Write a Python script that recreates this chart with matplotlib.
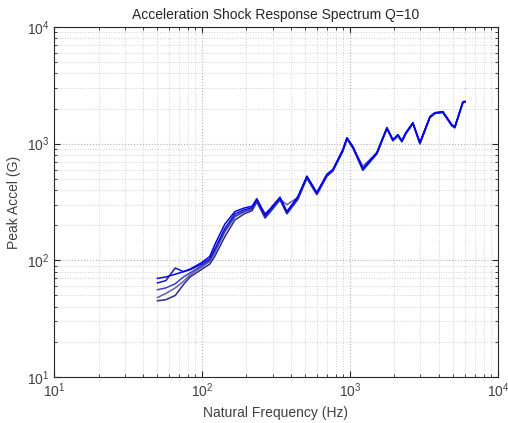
import numpy as np
import matplotlib.pyplot as plt

plt.rcParams['font.family'] = ['Liberation Sans', 'DejaVu Sans']

# natural frequency points (Hz)
freq = [50, 57, 66, 75, 83, 100, 113, 122, 143, 167, 195, 218, 235, 267, 297,
        337, 375, 445, 512, 598, 699, 768, 897, 955, 1048, 1224, 1522, 1779,
        1953, 2111, 2245, 2389, 2666, 2974, 3474, 3752, 4249, 4886, 5118, 5803, 6000]

# peak acceleration (G) for each record
srs_a = [70, 72, 76, 80, 84, 96, 108, 136, 205, 262, 282, 290, 338, 246, 288,
         348, 262, 352, 528, 382, 548, 602, 895, 1125, 945, 612, 842, 1375,
         1085, 1195, 1062, 1245, 1515, 1025, 1705, 1845, 1885, 1455, 1395, 2285, 2310]
srs_b = [64, 67, 86, 80, 83, 93, 103, 125, 188, 250, 272, 282, 330, 240, 282,
         340, 258, 345, 518, 376, 540, 596, 880, 1115, 935, 605, 832, 1360,
         1075, 1185, 1052, 1235, 1500, 1015, 1690, 1830, 1870, 1440, 1385, 2270, 2290]
srs_c = [56, 58, 63, 72, 78, 90, 100, 120, 180, 240, 265, 276, 325, 236, 276,
         336, 256, 340, 512, 372, 532, 590, 870, 1105, 925, 598, 825, 1350,
         1065, 1175, 1045, 1225, 1490, 1005, 1680, 1820, 1860, 1430, 1375, 2255, 2280]
srs_d = [45, 46, 50, 62, 72, 84, 93, 108, 160, 222, 252, 266, 316, 230, 270,
         330, 250, 332, 505, 365, 525, 582, 860, 1095, 915, 590, 815, 1340,
         1055, 1165, 1035, 1215, 1480, 995, 1670, 1810, 1850, 1420, 1365, 2240, 2265]
srs_e = [48, 52, 58, 66, 75, 88, 98, 116, 175, 236, 262, 274, 322, 252, 280,
         335, 300, 345, 515, 372, 530, 592, 875, 1110, 930, 640, 835, 1355,
         1070, 1180, 1050, 1230, 1495, 1010, 1685, 1825, 1865, 1435, 1380, 2260, 2285]

series = [srs_e, srs_d, srs_c, srs_b, srs_a]
colors = ['#6060a8', '#2a2a90', '#3c3cc8', '#1818b0', '#0000ff']

fig = plt.figure(figsize=(5.08, 4.23), dpi=100)
ax = fig.add_axes([0.1063, 0.1087, 0.8737, 0.8275])

for s, c in zip(series, colors):
    ax.loglog(freq, s, color=c, linewidth=1.1)

ax.set_xlim(10, 1e4)
ax.set_ylim(10, 1e4)
ax.grid(True, which='major', linestyle=':', color='#b0b0b0', linewidth=0.8)
ax.grid(True, which='minor', linestyle=':', color='#d0d0d0', linewidth=0.7)
ax.tick_params(which='both', direction='in', top=True, right=True, labelsize=10,
               colors='#262626', labelcolor='#404040')
ax.tick_params(which='major', length=4)
ax.tick_params(which='minor', length=2)
for sp in ax.spines.values():
    sp.set_color('#262626')
    sp.set_linewidth(0.8)

ax.set_title('Acceleration Shock Response Spectrum Q=10', fontsize=10, color='#262626', pad=6)
ax.set_xlabel('Natural Frequency (Hz)', fontsize=10, color='#404040')
ax.set_ylabel('Peak Accel (G)', fontsize=10, color='#404040')

fig.savefig('out.png', dpi=100)
